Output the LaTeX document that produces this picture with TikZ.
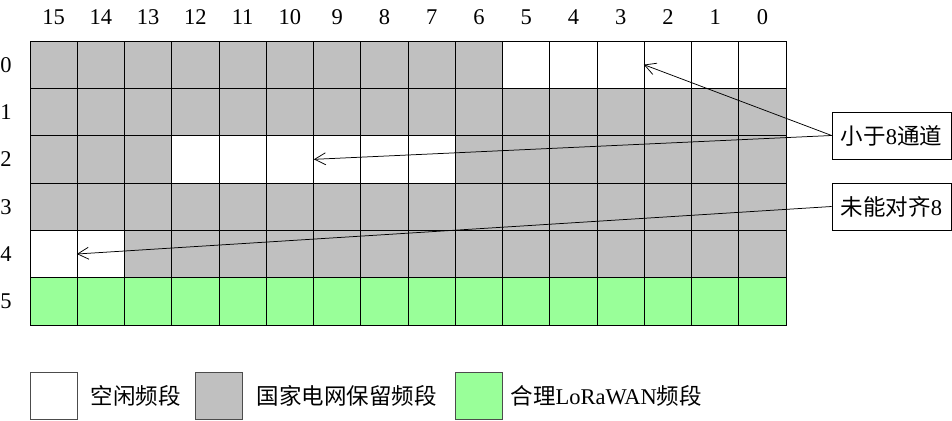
\documentclass[tikz,border=0pt]{standalone}
\usepackage{fontspec}
\setmainfont{Liberation Serif}
\newfontfamily\cjk{Noto Sans CJK SC}
\usetikzlibrary{arrows.meta, positioning}
\definecolor{bandgray}{RGB}{192,192,192}
\definecolor{bandgreen}{RGB}{153,255,153}

\begin{document}
\begin{tikzpicture}[
    x=1pt, y=-1pt,
    font=\fontsize{22.5}{27}\selectfont,
    cell/.style={rectangle, draw=black, line width=0.75pt, inner sep=0pt, minimum width=47.25pt, minimum height=47.33pt},
    note/.style={rectangle, draw=black, line width=0.75pt, inner sep=0pt, minimum width=119pt, minimum height=47pt},
    keybox/.style={rectangle, draw=black!70, line width=0.75pt, inner sep=0pt, minimum width=47pt, minimum height=47pt},
    keytext/.style={inner sep=0pt, anchor=west},
    pointer/.style={line width=0.75pt, -{Straight Barb[length=11pt,width=12pt]}}
]
\useasboundingbox (0,0) rectangle (952,420);
%
% Kanalraster
\foreach \r in {0,...,5}{
  \foreach \c in {0,...,15}{
    \def\col{bandgray}
    \ifnum\r=5 \def\col{bandgreen}\fi
    \ifnum\r=0 \ifnum\c<6 \def\col{white}\fi\fi
    \ifnum\r=2 \ifnum\c>6 \ifnum\c<13 \def\col{white}\fi\fi\fi
    \ifnum\r=4 \ifnum\c>13 \def\col{white}\fi\fi
    \node[cell, fill=\col] (cell-\r-\c) at ({53.625+(15-\c)*47.25}, {64.67+\r*47.333}) {};
  }
}
%
% Spalten- und Zeilennummern
\coordinate (toprow) at (0,17);
\coordinate (leftcol) at (6,0);
\foreach \c in {0,...,15}
  \node (col-\c) at (cell-0-\c |- toprow) {\c};
\foreach \r in {0,...,5}
  \node (row-\r) at (leftcol |- cell-\r-0) {\r};
%
% Hinweise
\node[note] (fewer) at (891.5,135.5) {{\cjk 小于}8{\cjk 通道}};
\node[note] (unaligned) at (891.5,206.5) {{\cjk 未能对齐}8};
%
\draw[pointer] (fewer.west) -- (cell-0-2.west);
\draw[pointer] (fewer.west) -- (cell-2-10.east);
\draw[pointer] (unaligned.west) -- (cell-4-14.west);
%
% Legende
\node[keybox, fill=white] (key-free) at (53.5,395.5) {};
\node[keytext, right=13pt of key-free] (lab-free) {\cjk 空闲频段};
\node[keybox, fill=bandgray] (key-grid) at (218.5,395.5) {};
\node[keytext, right=14pt of key-grid] (lab-grid) {\cjk 国家电网保留频段};
\node[keybox, fill=bandgreen] (key-wan) at (478.5,395.5) {};
\node[keytext, right=8pt of key-wan] (lab-wan) {{\cjk 合理}LoRaWAN{\cjk 频段}};
\end{tikzpicture}
\end{document}
